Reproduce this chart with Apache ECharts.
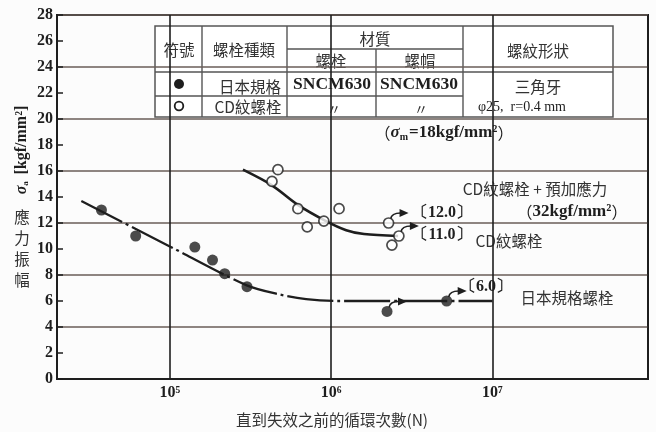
<!DOCTYPE html>
<html>
<head>
<meta charset="utf-8">
<script src="https://cdn.jsdelivr.net/npm/echarts@6/dist/echarts.min.js"></script>
<style>
  html, body { margin: 0; padding: 0; background: #fcfcfc; }
  #chart { width: 656px; height: 432px; }
</style>
</head>
<body>
<div id="chart"></div>
<script>
// Cycles to failure (N) and stress amplitude (kgf/mm^2)
const jisN = [3.77e4, 6.15e4, 1.43e5, 1.84e5, 2.19e5, 3.01e5];
const jisStress = [13.0, 11.0, 10.15, 9.15, 8.1, 7.1];
const jisRunoutN = [2.22e6, 5.2e6];
const jisRunoutStress = [5.2, 6.0];

const cdN = [4.68e5, 4.30e5, 6.22e5, 7.11e5, 9.01e5, 1.12e6, 2.38e6];
const cdStress = [16.1, 15.2, 13.1, 11.7, 12.15, 13.1, 10.3];
const cdRunoutN = [2.27e6, 2.63e6];
const cdRunoutStress = [12.0, 11.0];

// S-N curves
const jisCurveN = [2.83e4, 1.0e5, 3.0e5, 4.8e5, 7.0e5, 1.1e6, 2.0e6, 1.0e7];
const jisCurveStress = [13.7, 10.2, 7.2, 6.5, 6.15, 6.0, 6.0, 6.0];
const cdCurveN = [2.84e5, 4.3e5, 6.22e5, 9.3e5, 1.24e6, 1.6e6, 2.6e6];
const cdCurveStress = [16.1, 14.9, 13.4, 12.15, 11.45, 11.15, 11.0];

// Fatigue limits
const limitCdPreload = 12.0;
const limitCd = 11.0;
const limitJis = 6.0;

const yTicks = [0, 28, 2];        // min, max, label step
const xDecades = ['10⁵', '10⁶', '10⁷'];

const zip = (a, b) => a.map((v, i) => [v, b[i]]);
const SERIF = '"Liberation Serif", "Times New Roman", serif';
const CJK = '"Noto Sans CJK TC", "Noto Sans CJK SC", sans-serif';
const INK = '#1e1e1e';
const TXT = '#333';

const chart = echarts.init(document.getElementById('chart'), null, { renderer: 'canvas' });

// small run-out arrow next to a point that did not fail
function arrowItem(params, api) {
  const p = api.coord([api.value(0), api.value(1)]);
  const x = p[0], y = p[1];
  return {
    type: 'group',
    children: [
      {
        type: 'bezierCurve',
        shape: { x1: x + 2, y1: y - 4, cpx1: x + 3, cpy1: y - 10, x2: x + 12, y2: y - 10 },
        style: { stroke: INK, lineWidth: 1.6, fill: null }
      },
      {
        type: 'polygon',
        shape: { points: [[x + 20, y - 10], [x + 11, y - 14], [x + 11, y - 6]] },
        style: { fill: INK }
      }
    ]
  };
}

// Header / legend table drawn over the plot
const T = { x0: 155, x1: 613, y0: 26, y1: 117, c1: 202, c2: 287, c3: 376, c4: 463, rh: 49, rHead: 72, rMid: 96 };
const lineStyle = { stroke: '#555', lineWidth: 1.4 };
function hl(x1, x2, y) { return { type: 'line', shape: { x1, y1: y, x2, y2: y }, style: lineStyle }; }
function vl(x, y1, y2) { return { type: 'line', shape: { x1: x, y1, x2: x, y2 }, style: lineStyle }; }
function cjk(text, x, y, size) {
  return { type: 'text', x, y, style: { text, font: `${size || 15.5}px ${CJK}`, fill: TXT, align: 'center', verticalAlign: 'middle' } };
}
function serif(text, x, y, size, weight) {
  return { type: 'text', x, y, style: { text, font: `${weight || 'bold'} ${size}px ${SERIF}`, fill: INK, align: 'center', verticalAlign: 'middle' } };
}

const table = {
  type: 'group',
  z: 100,
  children: [
    { type: 'rect', shape: { x: T.x0, y: T.y0, width: T.x1 - T.x0, height: T.y1 - T.y0 }, style: { fill: '#fff', stroke: '#555', lineWidth: 1.5 } },
    hl(T.x0, T.x1, T.rHead),
    hl(T.x0, T.c4, T.rMid),
    hl(T.c2, T.c4, T.rh),
    vl(T.c1, T.y0, T.y1),
    vl(T.c2, T.y0, T.y1),
    vl(T.c3, T.rh, T.y1),
    vl(T.c4, T.y0, T.y1),
    cjk('符號', 179, 50),
    cjk('螺栓種類', 244, 50),
    cjk('材質', 375, 39),
    cjk('螺栓', 331, 61),
    cjk('螺帽', 420, 61),
    cjk('螺紋形狀', 538, 51),
    { type: 'circle', shape: { cx: 179, cy: 84, r: 5 }, style: { fill: INK } },
    { type: 'circle', shape: { cx: 179, cy: 106, r: 4.3 }, style: { fill: '#fff', stroke: INK, lineWidth: 1.8 } },
    cjk('日本規格', 250, 87),
    cjk('CD紋螺栓', 248, 107),
    serif('SNCM630', 332, 84, 17.5),
    serif('SNCM630', 419, 84, 17.5),
    cjk('〃', 334, 109, 14),
    cjk('〃', 421, 109, 14),
    cjk('三角牙', 538, 87),
    serif('φ25,  r=0.4 mm', 522, 107, 14, 'normal')
  ]
};

const annotations = [
  {
    type: 'text', x: 444, y: 133, z: 100,
    style: {
      text: '{p|（}{s|σ}{sub|m}{t|=18kgf/mm²}{p|）}',
      align: 'center', verticalAlign: 'middle', fill: INK,
      rich: {
        p: { font: `16px ${CJK}`, fill: INK },
        s: { font: `italic bold 17px ${SERIF}`, fill: INK },
        sub: { font: `bold 10px ${SERIF}`, fill: INK, padding: [8, 1, 0, 0] },
        t: { font: `bold 17px ${SERIF}`, fill: INK }
      }
    }
  },
  cjk('CD紋螺栓 + 預加應力', 535, 189),
  {
    type: 'text', x: 572, y: 212,
    style: {
      text: '{p|（}{t|32kgf/mm²}{p|）}', align: 'center', verticalAlign: 'middle',
      rich: { p: { font: `16px ${CJK}`, fill: INK }, t: { font: `bold 17px ${SERIF}`, fill: INK } }
    }
  },
  serif(`〔${limitCdPreload.toFixed(1)}〕`, 442, 213, 16),
  serif(`〔${limitCd.toFixed(1)}〕`, 442, 235, 16),
  cjk('CD紋螺栓', 509, 241),
  serif(`〔${limitJis.toFixed(1)}〕`, 486, 287, 16),
  cjk('日本規格螺栓', 567, 298),
  // axis titles
  {
    type: 'text', x: 22, y: 150, rotation: Math.PI / 2,
    style: {
      text: '{s|σ}{sub|a}  {t|[kgf/mm²]}', align: 'center', verticalAlign: 'middle',
      rich: {
        s: { font: `italic bold 16px ${SERIF}`, fill: INK },
        sub: { font: `bold 9px ${SERIF}`, fill: INK, padding: [8, 0, 0, 0] },
        t: { font: `bold 16px ${SERIF}`, fill: INK }
      }
    }
  },
  {
    type: 'text', x: 22, y: 249,
    style: { text: '應\n力\n振\n幅', font: `15.5px ${CJK}`, fill: TXT, align: 'center', verticalAlign: 'middle', lineHeight: 21 }
  },
  cjk('直到失效之前的循環次數(N)', 332, 420)
];

const option = {
  backgroundColor: '#fcfcfc',
  animation: false,
  grid: { left: 57, right: 8, top: 15, bottom: 53, show: true, borderColor: INK, borderWidth: 2, backgroundColor: 'transparent' },
  xAxis: {
    type: 'log', logBase: 10, min: 2e4, max: 9.2e7,
    axisLine: { show: true, lineStyle: { color: INK, width: 2 } },
    axisTick: { show: false },
    splitLine: { show: true, lineStyle: { color: INK, width: 1.6 } },
    axisLabel: {
      margin: 6, color: INK, fontFamily: SERIF, fontWeight: 'bold', fontSize: 16,
      formatter: function (v) {
        const e = Math.round(Math.log10(v));
        if (Math.abs(Math.log10(v) - e) > 1e-6 || e < 5 || e > 7) return '';
        return xDecades[e - 5];
      }
    }
  },
  yAxis: [
    {
      type: 'value', min: yTicks[0], max: yTicks[1], interval: yTicks[2], position: 'left',
      axisLine: { show: true, lineStyle: { color: INK, width: 2 } },
      axisTick: { show: true, inside: true, length: 6, lineStyle: { color: INK, width: 1.5 } },
      splitLine: { show: false },
      axisLabel: { margin: 4, color: INK, fontFamily: SERIF, fontWeight: 'bold', fontSize: 16 }
    },
    {
      type: 'value', min: yTicks[0], max: yTicks[1], interval: yTicks[2] * 2, position: 'right',
      axisLine: { show: false }, axisTick: { show: false }, axisLabel: { show: false },
      splitLine: { show: true, lineStyle: { color: '#6a5e58', width: 1.6 } }
    }
  ],
  series: [
    {
      name: '日本規格螺栓', type: 'line', data: zip(jisCurveN, jisCurveStress),
      smooth: 0.3, symbol: 'none', z: 3,
      lineStyle: { color: INK, width: 2.3, type: [46, 4, 3, 4] }
    },
    {
      name: 'CD紋螺栓', type: 'line', data: zip(cdCurveN, cdCurveStress),
      smooth: 0.3, symbol: 'none', z: 3,
      lineStyle: { color: INK, width: 2.6 }
    },
    {
      type: 'custom', renderItem: arrowItem, z: 4,
      data: zip(jisRunoutN.concat(cdRunoutN), jisRunoutStress.concat(cdRunoutStress))
    },
    {
      type: 'scatter', symbol: 'circle', symbolSize: 11, z: 5,
      data: zip(jisN.concat(jisRunoutN), jisStress.concat(jisRunoutStress)),
      itemStyle: { color: INK }
    },
    {
      type: 'scatter', symbol: 'circle', symbolSize: 10, z: 5,
      data: zip(cdN.concat(cdRunoutN), cdStress.concat(cdRunoutStress)),
      itemStyle: { color: '#fff', borderColor: INK, borderWidth: 1.7 }
    }
  ],
  graphic: [table].concat(annotations)
};

chart.setOption(option);
</script>
</body>
</html>
